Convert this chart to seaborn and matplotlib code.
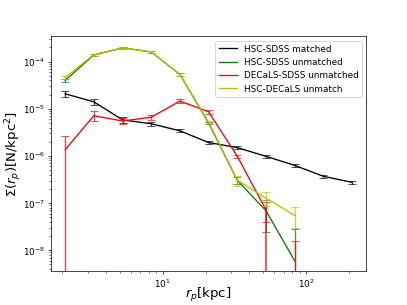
import numpy as np
import pandas as pd
import seaborn as sns
import matplotlib
matplotlib.use("Agg")
import matplotlib.pyplot as plt

nan = np.nan

# projected radius bins [kpc]
r_p = [2.09, 3.31, 5.25, 8.32, 13.2, 20.9, 33.1, 52.5, 83.2, 132, 209]

# surface density profiles and errors
hsc_sdss_matched = [2.07e-5, 1.4e-5, 5.8e-6, 4.8e-6, 3.4e-6, 1.92e-6, 1.5e-6, 9.8e-7, 6.3e-7, 3.7e-7, 2.75e-7]
hsc_sdss_matched_err = [3e-6, 1.8e-6, 8e-7, 4e-7, 2.5e-7, 1.2e-7, 1e-7, 6e-8, 4e-8, 3e-8, 2.5e-8]

hsc_sdss_unmatched = [4.0e-5, 1.38e-4, 1.95e-4, 1.6e-4, 5.3e-5, 5.0e-6, 3.05e-7, 6.9e-8, 6e-9, nan, nan]
hsc_sdss_unmatched_err = [3e-6, 7e-6, 8e-6, 7e-6, 3e-6, 3e-7, 5.5e-8, 4.5e-8, 2.2e-8, nan, nan]

decals_sdss_unmatched = [1.35e-6, 7.1e-6, 5.5e-6, 6.6e-6, 1.45e-5, 8.6e-6, 9.9e-7, 7.2e-8, 0.0, nan, nan]
decals_sdss_unmatched_err = [1.35e-6, 1.7e-6, 8e-7, 7e-7, 1.2e-6, 8e-7, 8e-8, 3.3e-8, 1.6e-8, nan, nan]

hsc_decals_unmatch = [4.6e-5, 1.4e-4, 1.95e-4, 1.6e-4, 5.3e-5, 5.2e-6, 3.07e-7, 1.27e-7, 5.5e-8, nan, nan]
hsc_decals_unmatch_err = [4e-6, 7e-6, 8e-6, 7e-6, 3e-6, 3e-7, 7.3e-8, 4.2e-8, 2.6e-8, nan, nan]

series = [
    ("HSC-SDSS matched", hsc_sdss_matched, hsc_sdss_matched_err, "k"),
    ("HSC-SDSS unmatched", hsc_sdss_unmatched, hsc_sdss_unmatched_err, "g"),
    ("DECaLS-SDSS unmatched", decals_sdss_unmatched, decals_sdss_unmatched_err, "r"),
    ("HSC-DECaLS unmatch", hsc_decals_unmatch, hsc_decals_unmatch_err, "y"),
]

fig, ax = plt.subplots(figsize=(6.4, 4.8), dpi=63.6)

for label, vals, errs, c in series:
    df = pd.DataFrame({"r_p": r_p, "sigma": vals})
    sns.lineplot(data=df, x="r_p", y="sigma", color=c, label=label,
                 estimator=None, sort=False, linewidth=1.5, ax=ax)
    ax.errorbar(r_p, vals, yerr=errs, fmt="none", ecolor=c, capsize=4,
                elinewidth=1.5, alpha=0.75)

ax.set_xscale("log")
ax.set_yscale("log")
ax.set_xlabel(r"$r_p$[kpc]", fontsize=15, labelpad=-5)
ax.set_ylabel(r"$\Sigma(r_p)$[N/kpc$^2$]", fontsize=15, labelpad=-1)
ax.legend(loc="upper right")

fig.savefig("out.png", dpi=63.6)
